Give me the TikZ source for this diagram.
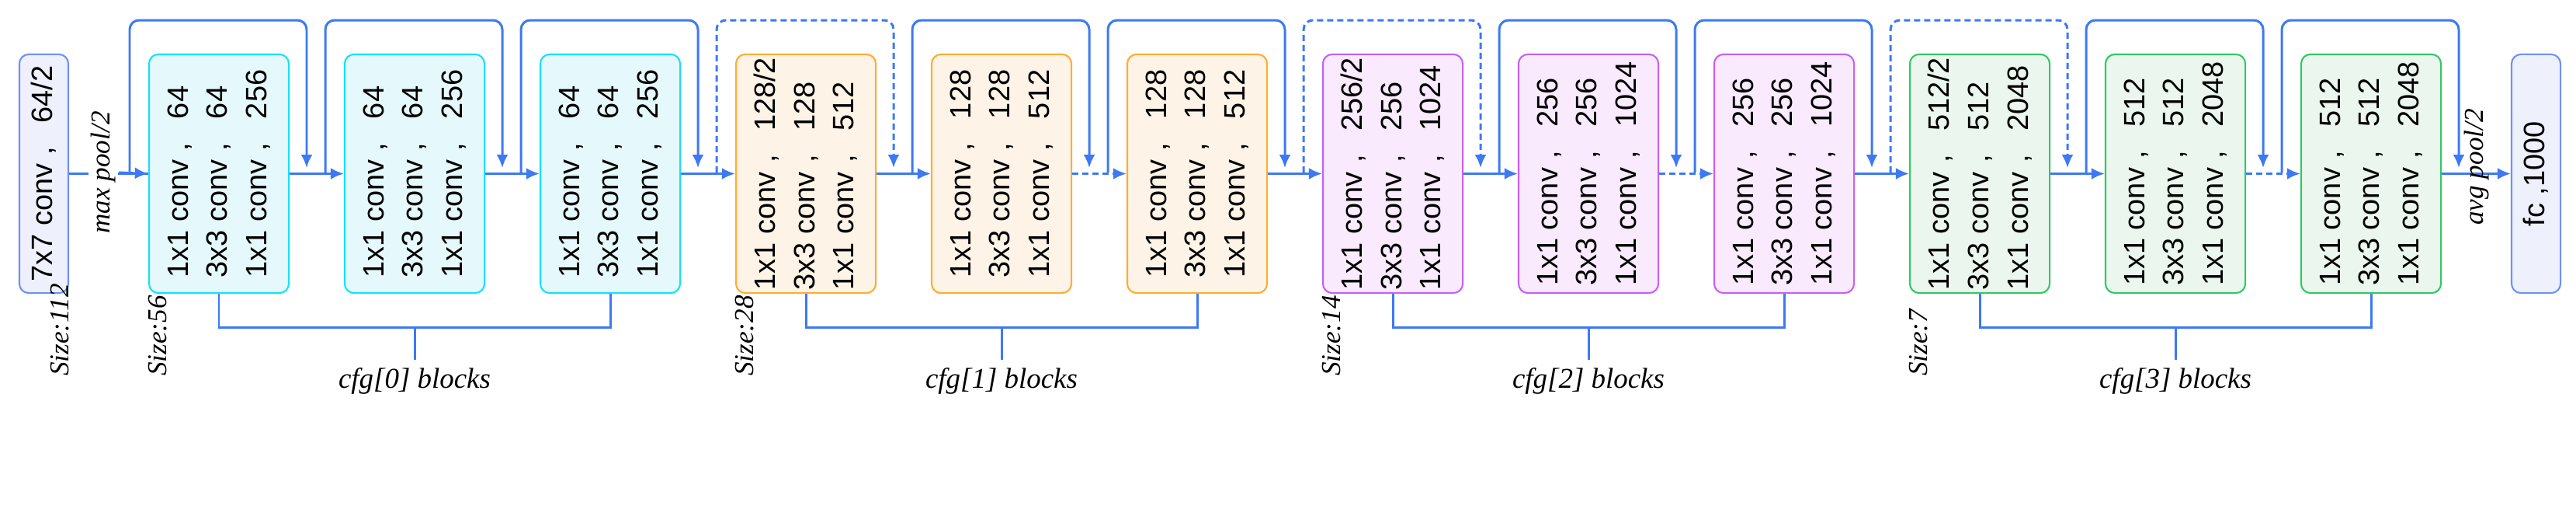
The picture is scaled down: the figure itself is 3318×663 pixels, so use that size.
\documentclass[tikz,border=0pt]{standalone}
\usepackage{fontspec}
\setmainfont{Liberation Sans}
\newfontfamily\lblfont{Liberation Serif}
\usetikzlibrary{arrows.meta}

\definecolor{lineblue}{RGB}{61,121,245}
\definecolor{cyanD}{RGB}{20,225,250}  \definecolor{cyanL}{RGB}{229,249,253}
\definecolor{oranD}{RGB}{255,172,50}  \definecolor{oranL}{RGB}{253,243,231}
\definecolor{purpD}{RGB}{200,95,245}  \definecolor{purpL}{RGB}{249,234,253}
\definecolor{grenD}{RGB}{50,200,100}  \definecolor{grenL}{RGB}{235,247,238}
\definecolor{greyD}{RGB}{110,145,245} \definecolor{greyL}{RGB}{238,240,252}

\tikzset{
  blk/.style={draw, rounded corners=1.2mm, line width=0.6pt, minimum width=1.8cm, minimum height=3.07cm, inner sep=0pt},
  s0/.style={blk, draw=cyanD, fill=cyanL},
  s1/.style={blk, draw=oranD, fill=oranL},
  s2/.style={blk, draw=purpD, fill=purpL},
  s3/.style={blk, draw=grenD, fill=grenL},
  io/.style={blk, draw=greyD, fill=greyL, minimum width=0.63cm},
  blktext/.style={rotate=90, align=left, inner sep=0pt, font=\fontsize{10.8}{14.4}\selectfont},
  lbl/.style={rotate=90, inner sep=1pt, font=\lblfont\itshape\fontsize{10}{12}\selectfont},
  flow/.style={draw=lineblue, line width=0.85pt, -{Latex[length=1.7mm,width=1.5mm]}},
  wire/.style={draw=lineblue, line width=0.85pt},
  skip/.style={flow, rounded corners=1.2mm},
  brk/.style={dash pattern=on 0.8mm off 0.5mm}
}

\begin{document}
\begin{tikzpicture}[x=0.01cm, y=-0.01cm]
  \useasboundingbox[fill=white] (0,0) rectangle (3318,663);

  % input and output
  \node[io] (conv7) at (56.5,223.5) {};
  \node[blktext] at (conv7) {7x7 conv\hspace{0.3em},\hspace{0.8em}64/2};
  \node[io] (fc) at (3266.5,223.5) {};
  \node[blktext] at (fc) {fc ,1000};

  % residual blocks
  \foreach \i/\st/\a/\b/\c in {0/s0/64/64/256, 1/s0/64/64/256, 2/s0/64/64/256,
      3/s1/{128/2}/128/512, 4/s1/128/128/512, 5/s1/128/128/512,
      6/s2/{256/2}/256/1024, 7/s2/256/256/1024, 8/s2/256/256/1024,
      9/s3/{512/2}/512/2048, 10/s3/512/512/2048, 11/s3/512/512/2048} {
    \node[\st] (b\i) at (282+252*\i,223.5) {};
    \node[blktext] (t\i) at (b\i) {1x1 conv\hspace{0.3em},\hspace{0.8em}\a\\
      3x3 conv\hspace{0.3em},\hspace{0.8em}\b\\ 1x1 conv\hspace{0.3em},\hspace{0.8em}\c};
  }

  % main path
  \draw[wire] (conv7.east) -- (b0.west);
  \node[lbl, fill=white, inner xsep=2pt] (mp) at (133,222) {max pool/2};
  \draw[flow] (mp.south) -- (b0.west);
  \foreach \i/\j/\sty in {0/1/solid, 1/2/solid, 2/3/solid, 3/4/solid, 4/5/brk,
      5/6/solid, 6/7/solid, 7/8/brk, 8/9/solid, 9/10/solid, 10/11/brk}
    \draw[flow, \sty] (b\i.east) -- (b\j.west);
  \draw[flow] (b11.east) -- (fc.west);
  \node[lbl] (ap) at (3190,215) {avg pool/2};

  % shortcuts
  \foreach \i/\sty in {0/solid, 1/solid, 2/solid, 3/brk, 4/solid, 5/solid,
      6/brk, 7/solid, 8/solid, 9/brk, 10/solid, 11/solid} {
    \coordinate (u\i) at (167+252*\i,222);
    \coordinate (d\i) at (395+252*\i,216);
    \draw[skip, \sty] (u\i) -- (167+252*\i,26) -- (395+252*\i,26) -- (d\i);
  }

  % stage brackets
  \foreach \k/\f/\m/\l in {0/0/1/2, 1/3/4/5, 2/6/7/8, 3/9/10/11} {
    \draw[wire] (b\f.south) -- (b\f.south |- 0,421) -| (b\l.south);
    \draw[wire] (b\m.south |- 0,421) -- (b\m.south |- 0,463) coordinate (c\k);
    \node[font=\lblfont\itshape\fontsize{10.5}{12}\selectfont] at (b\m.south |- 0,490) {cfg[\k] blocks};
  }

  % feature map sizes
  \node[lbl, anchor=west] at (77,488) {Size:112};
  \foreach \f/\s in {0/56, 3/28, 6/14, 9/7}
    \node[lbl, anchor=west] at (203+252*\f,488) {Size:\s};
\end{tikzpicture}
\end{document}
